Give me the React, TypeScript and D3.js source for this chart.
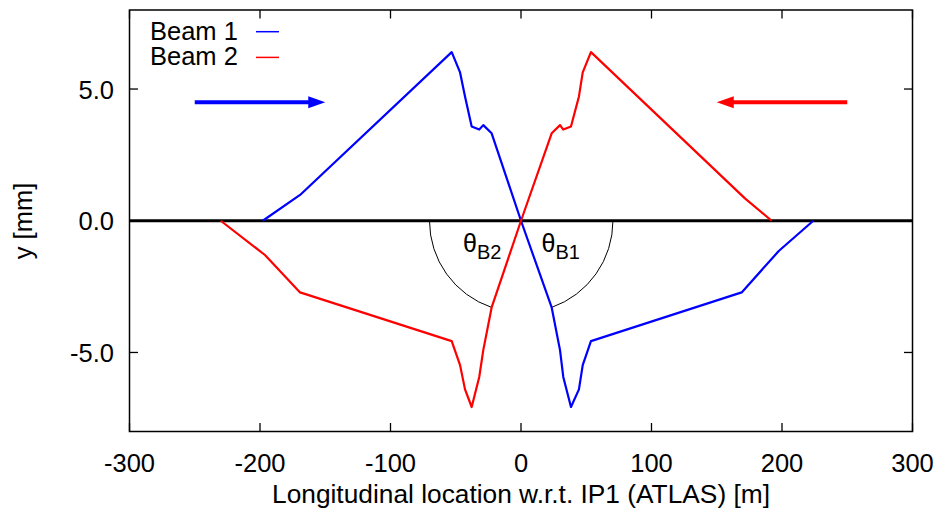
import React from "react";
import * as d3 from "d3";

// Beam orbit (vertical offset) around IP1, metres vs millimetres
const beam1X = [-197.9, -169.3, -53.1, -46.7, -42.9, -37.8, -32.0, -28.9, -22.5, 0, 23.5, 29.9, 32.4, 38.3, 44.4, 47.3, 53.6, 169.1, 197.5, 224.0];
const beam1Y = [0, 0.98, 6.40, 5.63, 4.72, 3.58, 3.46, 3.63, 3.32, 0, -3.29, -4.91, -5.93, -7.07, -6.40, -5.48, -4.57, -2.72, -1.15, 0];
const beam2X = [-230.1, -196.2, -169.3, -53.1, -46.7, -42.9, -37.8, -32.0, -28.9, -22.5, 0, 23.5, 29.9, 32.4, 38.3, 44.4, 47.3, 53.6, 171.6, 192.1];
const beam2Y = [0, -1.30, -2.72, -4.57, -5.48, -6.40, -7.07, -5.93, -4.91, -3.29, 0, 3.32, 3.63, 3.46, 3.58, 4.72, 5.63, 6.40, 0.85, 0];

const xTicks = [-300, -200, -100, 0, 100, 200, 300];
const yTicks = [-5, 0, 5];
const legendLabels = ["Beam 1", "Beam 2"];
const beamColors = ["#0000ff", "#ff0000"];

// Direction-of-travel arrows: [from, to] in metres at a fixed height (mm)
const arrow1X = [-250, -150];
const arrow2X = [250, 150];
const arrowY = 4.5;

// Crossing-angle arcs end where each beam passes this location
const angleAnchorB1 = 23.5;
const angleAnchorB2 = -22.5;

const W = 940;
const H = 515;
const left = 129.5;
const right = 912.5;
const top = 10;
const bottom = 431.5;
const FONT = "'Liberation Sans', Arial, Helvetica, sans-serif";

// plain hyphen-minus, one decimal
const fmtY = (v: number) => v.toFixed(1);

export default function App() {
  const x = d3.scaleLinear().domain([-300, 300]).range([left, right]);
  const y = d3.scaleLinear().domain([-8, 8]).range([bottom, top]);

  const line = d3
    .line<[number, number]>()
    .x((d) => x(d[0]))
    .y((d) => y(d[1]));

  const b1 = beam1X.map((v, i) => [v, beam1Y[i]] as [number, number]);
  const b2 = beam2X.map((v, i) => [v, beam2Y[i]] as [number, number]);

  const cx = x(0);
  const cy = y(0);

  const i1 = beam1X.indexOf(angleAnchorB1);
  const p1: [number, number] = [x(beam1X[i1]), y(beam1Y[i1])];
  const r1 = Math.hypot(p1[0] - cx, p1[1] - cy);
  const arc1 = `M${cx + r1},${cy} A${r1},${r1} 0 0 1 ${p1[0]},${p1[1]}`;

  const i2 = beam2X.indexOf(angleAnchorB2);
  const p2: [number, number] = [x(beam2X[i2]), y(beam2Y[i2])];
  const r2 = Math.hypot(p2[0] - cx, p2[1] - cy);
  const arc2 = `M${cx - r2},${cy} A${r2},${r2} 0 0 0 ${p2[0]},${p2[1]}`;

  const tickLen = 8.5;

  const arrow = (xs: number[], color: string) => {
    const x0 = x(xs[0]);
    const x1 = x(xs[1]);
    const yy = y(arrowY);
    const dir = Math.sign(x1 - x0);
    const headLen = 17;
    const headHalf = 6;
    const base = x1 - dir * headLen;
    return (
      <g>
        <line x1={x0} y1={yy} x2={base + dir * 1} y2={yy} stroke={color} strokeWidth={4} />
        <path d={`M${x1},${yy} L${base},${yy - headHalf} L${base},${yy + headHalf} Z`} fill={color} />
      </g>
    );
  };

  return (
    <svg
      width={W}
      height={H}
      viewBox={`0 0 ${W} ${H}`}
      style={{ position: "absolute", left: 0, top: 0, background: "#fff" }}
      fontFamily={FONT}
    >
      <rect x={0} y={0} width={W} height={H} fill="#fff" />

      {/* ticks (inward, mirrored on all sides) */}
      <g stroke="#000" strokeWidth={1.3}>
        {xTicks.map((t) => (
          <g key={`xt${t}`}>
            <line x1={x(t)} x2={x(t)} y1={bottom} y2={bottom - tickLen} />
            <line x1={x(t)} x2={x(t)} y1={top} y2={top + tickLen} />
          </g>
        ))}
        {yTicks.map((t) => (
          <g key={`yt${t}`}>
            <line x1={left} x2={left + tickLen} y1={y(t)} y2={y(t)} />
            <line x1={right} x2={right - tickLen} y1={y(t)} y2={y(t)} />
          </g>
        ))}
      </g>

      {/* tick labels */}
      <g fontSize={25.5} fill="#000">
        {xTicks.map((t) => (
          <text key={`xl${t}`} x={x(t)} y={472} textAnchor="middle">
            {String(t)}
          </text>
        ))}
        {yTicks.map((t) => (
          <text key={`yl${t}`} x={114} y={y(t) + 9.5} textAnchor="end">
            {fmtY(t)}
          </text>
        ))}
      </g>

      {/* axis titles */}
      <text x={521} y={503} textAnchor="middle" fontSize={26.3}>
        Longitudinal location w.r.t. IP1 (ATLAS) [m]
      </text>
      <text transform={`translate(32,221) rotate(-90)`} textAnchor="middle" fontSize={25.5}>
        y [mm]
      </text>

      {/* reference orbit line */}
      <line x1={x(-300)} x2={x(300)} y1={cy} y2={cy} stroke="#000" strokeWidth={3.2} />

      {/* crossing-angle arcs */}
      <path d={arc1} fill="none" stroke="#000" strokeWidth={1} />
      <path d={arc2} fill="none" stroke="#000" strokeWidth={1} />
      <text x={463} y={252} fontSize={25}>
        θ<tspan dy={6.5} fontSize={20}>B2</tspan>
      </text>
      <text x={541.5} y={252} fontSize={25}>
        θ<tspan dy={6.5} fontSize={20}>B1</tspan>
      </text>

      {/* beam orbits */}
      <path d={line(b1) ?? ""} fill="none" stroke={beamColors[0]} strokeWidth={2.2} strokeLinejoin="round" />
      <path d={line(b2) ?? ""} fill="none" stroke={beamColors[1]} strokeWidth={2.2} strokeLinejoin="round" />

      {/* direction arrows */}
      {arrow(arrow1X, beamColors[0])}
      {arrow(arrow2X, beamColors[1])}

      {/* frame */}
      <rect x={left} y={top} width={right - left} height={bottom - top} fill="none" stroke="#000" strokeWidth={1.5} />

      {/* legend */}
      {legendLabels.map((lab, i) => (
        <g key={lab}>
          <text x={150} y={39.5 + i * 25.7} fontSize={25.5}>
            {lab}
          </text>
          <line x1={256} x2={279} y1={31.7 + i * 25.7} y2={31.7 + i * 25.7} stroke={beamColors[i]} strokeWidth={1.5} />
        </g>
      ))}
    </svg>
  );
}
